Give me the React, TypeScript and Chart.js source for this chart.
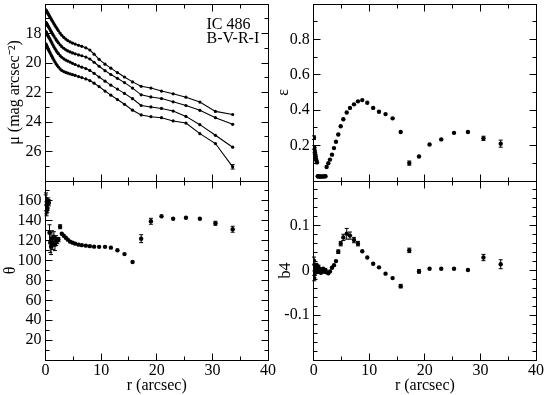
import React, { useEffect, useRef } from "react";
import { Chart, registerables } from "chart.js";

Chart.register(...registerables);

const FONT_FAMILY = "'Liberation Serif', 'Times New Roman', Times, serif";
const FONT_SIZE = 16;
const PAGE_W = 545;
const PAGE_H = 395;

// ---- data ----
const RADIUS = [
  0.05, 0.1, 0.15, 0.2, 0.27, 0.34, 0.42, 0.5, 0.6, 0.72,
  0.85, 1.0, 1.15, 1.32, 1.5, 1.7, 1.92, 2.12,
  2.32, 2.63, 2.93, 3.29, 3.65, 4.01, 4.42, 4.86, 5.33, 5.94,
  6.53, 7.25, 7.97, 8.74, 9.64, 10.7, 11.75, 12.93, 14.2, 15.65,
  17.2, 18.95, 20.85, 22.95, 25.25, 27.75, 30.55, 33.65,
];

const MU_I = [
  16.40, 16.43, 16.46, 16.49, 16.53, 16.58, 16.63, 16.68, 16.74, 16.82,
  16.90, 17.00, 17.10, 17.21, 17.33, 17.45, 17.58, 17.70,
  17.82, 17.98, 18.12, 18.26, 18.38, 18.48, 18.57, 18.65, 18.72, 18.80,
  18.87, 18.97, 19.12, 19.40, 19.75, 20.08, 20.35, 20.65, 20.95, 21.28,
  21.58, 21.70, 21.90, 22.09, 22.32, 22.65, 23.28, 23.49,
];
const MU_R = [
  17.24, 17.27, 17.30, 17.33, 17.38, 17.42, 17.47, 17.52, 17.58, 17.66,
  17.75, 17.85, 17.95, 18.06, 18.17, 18.29, 18.42, 18.53,
  18.63, 18.77, 18.89, 19.00, 19.10, 19.18, 19.25, 19.32, 19.38, 19.45,
  19.51, 19.60, 19.73, 19.95, 20.22, 20.52, 20.78, 21.04, 21.33, 21.70,
  22.16, 22.30, 22.41, 22.63, 22.88, 23.21, 23.71, 24.16,
];
const MU_V = [
  17.87, 17.90, 17.93, 17.97, 18.02, 18.07, 18.13, 18.19, 18.26, 18.34,
  18.43, 18.54, 18.65, 18.77, 18.89, 19.02, 19.16, 19.27,
  19.37, 19.50, 19.61, 19.72, 19.80, 19.87, 19.94, 20.02, 20.10, 20.20,
  20.28, 20.38, 20.50, 20.70, 20.95, 21.23, 21.50, 21.77, 22.06, 22.42,
  22.88, 22.98, 23.08, 23.26, 23.62, 24.18, 24.90, 25.71,
];
const MU_B = [
  18.70, 18.74, 18.78, 18.82, 18.88, 18.94, 19.00, 19.07, 19.15, 19.24,
  19.33, 19.44, 19.55, 19.67, 19.80, 19.93, 20.06, 20.17,
  20.27, 20.40, 20.50, 20.58, 20.64, 20.69, 20.74, 20.79, 20.84, 20.92,
  20.99, 21.08, 21.19, 21.37, 21.60, 21.90, 22.18, 22.48, 22.80, 23.20,
  23.52, 23.64, 23.71, 23.93, 24.07, 24.79, 25.46, 27.04,
];
const MU_B_ERR = [
  0, 0, 0, 0, 0, 0, 0, 0, 0, 0,
  0, 0, 0, 0, 0, 0, 0, 0,
  0, 0, 0, 0, 0, 0, 0, 0, 0, 0,
  0, 0, 0, 0, 0, 0, 0, 0, 0, 0,
  0, 0, 0, 0, 0, 0.04, 0.06, 0.15,
];

const ELLIP = [
  0.245, 0.19, 0.17, 0.16, 0.15, 0.14, 0.125, 0.115, 0.105, 0.027,
  0.026, 0.026, 0.025, 0.026, 0.025, 0.026, 0.026, 0.027,
  0.079, 0.100, 0.121, 0.149, 0.186, 0.222, 0.263, 0.309, 0.349, 0.387,
  0.413, 0.433, 0.450, 0.457, 0.442, 0.413, 0.391, 0.378, 0.354, 0.277,
  0.101, 0.138, 0.206, 0.235, 0.272, 0.277, 0.241, 0.211,
];
const ELLIP_ERR = [
  0.01, 0.01, 0.01, 0.01, 0.01, 0.008, 0.008, 0.006, 0.006, 0.004,
  0.004, 0.004, 0.004, 0.004, 0.004, 0.004, 0.004, 0.004,
  0.004, 0.004, 0.005, 0.005, 0.005, 0.006, 0.008, 0.008, 0.006, 0.005,
  0.004, 0.004, 0.004, 0.003, 0.003, 0.003, 0.003, 0.003, 0.004, 0.005,
  0.012, 0.008, 0.005, 0.005, 0.005, 0.006, 0.012, 0.02,
];

const PA = [
  158, 162, 153, 150, 156, 152, 157, 160, 158, 128,
  118, 114, 122, 117, 124, 116, 120, 120,
  121, 134, 127, 125, 123, 121, 119, 118, 117, 116,
  115.5, 115, 114.5, 114, 113.8, 113.8, 113, 110.3, 106.5, 98.5,
  122, 139.5, 144.5, 142, 143, 142, 137.5, 131.5,
];
const PA_ERR = [
  8, 6, 6, 5, 5, 4, 4, 3, 3, 8,
  10, 8, 8, 6, 5, 6, 5, 3,
  2, 2, 1, 1, 1, 1, 0.8, 0.8, 0.8, 0.6,
  0.6, 0.6, 0.6, 0.6, 0.6, 0.6, 0.6, 0.8, 0.8, 1,
  4, 3, 1, 1.5, 1, 1.5, 2, 3,
];

const B4 = [
  0.022, -0.017, 0.005, -0.006, 0.010, 0.000, 0.012, 0.004, 0.010, -0.003,
  0.008, -0.002, 0.003, -0.005, 0.002, 0.004, -0.003, 0.001,
  -0.004, -0.006, -0.002, 0.006, 0.012, 0.021, 0.042, 0.060, 0.074, 0.082,
  0.078, 0.068, 0.060, 0.043, 0.029, 0.015, 0.007, -0.007, -0.017, -0.035,
  0.045, -0.002, 0.004, 0.004, 0.004, 0.001, 0.029, 0.014,
];
const B4_ERR = [
  0.008, 0.006, 0.006, 0.005, 0.005, 0.005, 0.004, 0.004, 0.004, 0.004,
  0.004, 0.004, 0.003, 0.003, 0.003, 0.003, 0.003, 0.003,
  0.003, 0.003, 0.002, 0.002, 0.002, 0.003, 0.004, 0.005, 0.007, 0.012,
  0.008, 0.006, 0.005, 0.003, 0.002, 0.002, 0.002, 0.002, 0.003, 0.004,
  0.005, 0.004, 0.003, 0.003, 0.003, 0.003, 0.007, 0.010,
];

// ---- ticks and labels ----
const X_MAJOR = [0, 10, 20, 30, 40];
const X_MINOR = [5, 15, 25, 35];
const MU_MAJOR = [18, 20, 22, 24, 26];
const MU_MINOR = [17, 19, 21, 23, 25, 27];
const ELL_MAJOR = [0.2, 0.4, 0.6, 0.8];
const ELL_MINOR = [0.1, 0.3, 0.5, 0.7, 0.9];
const PA_MAJOR = [20, 40, 60, 80, 100, 120, 140, 160];
const PA_MINOR = [10, 30, 50, 70, 90, 110, 130, 150, 170];
const B4_MAJOR = [-0.1, 0, 0.1];
const B4_MINOR = [-0.18, -0.16, -0.14, -0.12, -0.08, -0.06, -0.04, -0.02, 0.02, 0.04, 0.06, 0.08, 0.12, 0.14, 0.16, 0.18];

const X_TITLE = "r (arcsec)";
const MU_TITLE = "\u03bc (mag arcsec\u207b\u00b2)";
const ELL_TITLE = "\u03b5";
const PA_TITLE = "\u03b8";
const B4_TITLE = "b4";
const GALAXY_LABEL = ["IC 486", "B-V-R-I"];

const pts = (ys: number[]) => RADIUS.map((r, i) => ({ x: r, y: ys[i] }));

type Area = { left: number; top: number; right: number; bottom: number };
type PanelSpec = {
  area: Area;
  yBoxLeft: number;
  xLabels: boolean;
  yMin: number;
  yMax: number;
  yReverse?: boolean;
  yMajor: number[];
  yMinor: number[];
  yFormat: (v: number) => string;
  yTitle: string;
  datasets: any[];
  texts?: { text: string; x: number; y: number }[];
};

const scatterSet = (ys: number[], errs: number[]) => ({
  data: pts(ys),
  errors: errs,
  showLine: false,
  pointRadius: 2.2,
  pointBackgroundColor: "#000",
  pointBorderWidth: 0,
  borderColor: "#000",
});
const lineSet = (ys: number[], errs?: number[]) => ({
  data: pts(ys),
  errors: errs,
  showLine: true,
  borderColor: "#000",
  borderWidth: 1.1,
  pointRadius: 1.6,
  pointBackgroundColor: "#000",
  pointBorderWidth: 0,
  tension: 0,
});

const PANELS: PanelSpec[] = [
  {
    area: { left: 45.5, top: 3, right: 268, bottom: 181 },
    yBoxLeft: 5.4,
    xLabels: false,
    yMin: 16,
    yMax: 28,
    yReverse: true,
    yMajor: MU_MAJOR,
    yMinor: MU_MINOR,
    yFormat: (v) => String(v),
    yTitle: MU_TITLE,
    datasets: [lineSet(MU_I), lineSet(MU_R), lineSet(MU_V), lineSet(MU_B, MU_B_ERR)],
    texts: [
      { text: GALAXY_LABEL[0], x: 206.5, y: 29 },
      { text: GALAXY_LABEL[1], x: 206.5, y: 43 },
    ],
  },
  {
    area: { left: 313.7, top: 3, right: 536, bottom: 181 },
    yBoxLeft: 273.9,
    xLabels: false,
    yMin: 0,
    yMax: 1,
    yMajor: ELL_MAJOR,
    yMinor: ELL_MINOR,
    yFormat: (v) => v.toFixed(1),
    yTitle: ELL_TITLE,
    datasets: [scatterSet(ELLIP, ELLIP_ERR)],
  },
  {
    area: { left: 45.5, top: 181, right: 268, bottom: 360 },
    yBoxLeft: 1.4,
    xLabels: true,
    yMin: 0,
    yMax: 180,
    yMajor: PA_MAJOR,
    yMinor: PA_MINOR,
    yFormat: (v) => String(v),
    yTitle: PA_TITLE,
    datasets: [scatterSet(PA, PA_ERR)],
  },
  {
    area: { left: 313.7, top: 181, right: 536, bottom: 360 },
    yBoxLeft: 276.4,
    xLabels: true,
    yMin: -0.2,
    yMax: 0.2,
    yMajor: B4_MAJOR,
    yMinor: B4_MINOR,
    yFormat: (v) => (Math.abs(v) < 1e-9 ? "0" : v.toFixed(1)),
    yTitle: B4_TITLE,
    datasets: [scatterSet(B4, B4_ERR)],
  },
];

const MAJOR_LEN = 7;
const MINOR_LEN = 4;

function framePlugin(p: PanelSpec) {
  return {
    id: "frameTicks",
    afterDatasetsDraw(chart: any) {
      const ctx = chart.ctx;
      const xs = chart.scales.x;
      const ys = chart.scales.y;
      ctx.save();
      ctx.strokeStyle = "#000";
      ctx.lineWidth = 1;
      chart.data.datasets.forEach((ds: any) => {
        if (!ds.errors) return;
        ds.data.forEach((pt: any, i: number) => {
          const e = ds.errors[i];
          if (!e) return;
          const px = xs.getPixelForValue(pt.x);
          const y1 = ys.getPixelForValue(pt.y - e);
          const y2 = ys.getPixelForValue(pt.y + e);
          if (Math.abs(y1 - y2) < 3) return;
          ctx.beginPath();
          ctx.moveTo(px, y1);
          ctx.lineTo(px, y2);
          ctx.moveTo(px - 2, y1);
          ctx.lineTo(px + 2, y1);
          ctx.moveTo(px - 2, y2);
          ctx.lineTo(px + 2, y2);
          ctx.stroke();
        });
      });
      ctx.restore();
    },
    afterDraw(chart: any) {
      const ctx = chart.ctx;
      const a = chart.chartArea;
      const xs = chart.scales.x;
      const ys = chart.scales.y;
      const al = (v: number) => Math.floor(v) + 0.5;
      const L = al(a.left), R = al(a.right), T = al(a.top), B = al(a.bottom);
      ctx.save();
      ctx.strokeStyle = "#000";
      ctx.lineWidth = 1;
      ctx.strokeRect(L, T, R - L, B - T);
      ctx.beginPath();
      const xt = (vals: number[], len: number) =>
        vals.forEach((v) => {
          const px = al(xs.getPixelForValue(v));
          ctx.moveTo(px, B);
          ctx.lineTo(px, B - len);
          ctx.moveTo(px, T);
          ctx.lineTo(px, T + len);
        });
      const yt = (vals: number[], len: number) =>
        vals.forEach((v) => {
          const py = al(ys.getPixelForValue(v));
          ctx.moveTo(L, py);
          ctx.lineTo(L + len, py);
          ctx.moveTo(R, py);
          ctx.lineTo(R - len, py);
        });
      xt(X_MAJOR, MAJOR_LEN);
      xt(X_MINOR, MINOR_LEN);
      yt(p.yMajor, MAJOR_LEN);
      yt(p.yMinor, MINOR_LEN);
      ctx.stroke();
      if (p.texts) {
        ctx.fillStyle = "#000";
        ctx.font = `${FONT_SIZE}px ${FONT_FAMILY}`;
        ctx.textAlign = "left";
        ctx.textBaseline = "alphabetic";
        p.texts.forEach((t) => ctx.fillText(t.text, t.x, t.y));
      }
      ctx.restore();
    },
  };
}

function zeroPad(s: any) {
  s.paddingTop = 0;
  s.paddingBottom = 0;
  s.paddingLeft = 0;
  s.paddingRight = 0;
}

function buildConfig(p: PanelSpec): any {
  const xHeight = p.xLabels ? 35 : 10;
  const yWidth = p.area.left - p.yBoxLeft;
  const font = { family: FONT_FAMILY, size: FONT_SIZE };
  return {
    type: "scatter",
    data: { datasets: p.datasets },
    options: {
      responsive: false,
      animation: false,
      devicePixelRatio: 1,
      events: [],
      layout: {
        padding: {
          left: p.yBoxLeft,
          top: p.area.top,
          right: PAGE_W - p.area.right,
          bottom: PAGE_H - p.area.bottom - xHeight,
        },
      },
      plugins: {
        legend: { display: false },
        tooltip: { enabled: false },
        title: { display: false },
      },
      scales: {
        x: {
          type: "linear",
          position: "bottom",
          min: 0,
          max: 40,
          grid: { display: false, drawTicks: false },
          border: { display: false },
          afterBuildTicks: (s: any) => {
            s.ticks = X_MAJOR.map((v) => ({ value: v }));
          },
          ticks: {
            display: p.xLabels,
            autoSkip: false,
            maxRotation: 0,
            padding: 1,
            color: "#000",
            font,
            callback: (v: number) => String(v),
          },
          title: { display: p.xLabels, text: X_TITLE, color: "#000", font, padding: 0 },
          afterFit: (s: any) => {
            s.height = xHeight;
            zeroPad(s);
          },
        },
        y: {
          type: "linear",
          position: "left",
          min: p.yMin,
          max: p.yMax,
          reverse: !!p.yReverse,
          grid: { display: false, drawTicks: false },
          border: { display: false },
          afterBuildTicks: (s: any) => {
            s.ticks = p.yMajor.map((v) => ({ value: v }));
          },
          ticks: {
            autoSkip: false,
            padding: 4,
            color: "#000",
            font,
            callback: (v: number) => p.yFormat(v),
          },
          title: { display: true, text: p.yTitle, color: "#000", font, padding: 0 },
          afterFit: (s: any) => {
            s.width = yWidth;
            zeroPad(s);
          },
        },
      },
    },
    plugins: [framePlugin(p)],
  };
}

export default function App() {
  const canvases = useRef<(HTMLCanvasElement | null)[]>([]);
  useEffect(() => {
    const charts = PANELS.map((p, i) => new Chart(canvases.current[i] as HTMLCanvasElement, buildConfig(p)));
    return () => charts.forEach((c) => c.destroy());
  }, []);
  return (
    <div
      style={{
        position: "fixed",
        left: 0,
        top: 0,
        width: PAGE_W,
        height: PAGE_H,
        overflow: "hidden",
        background: "#fff",
      }}
    >
      {PANELS.map((_, i) => (
        <canvas
          key={i}
          ref={(el) => {
            canvases.current[i] = el;
          }}
          width={PAGE_W}
          height={PAGE_H}
          style={{ position: "absolute", left: 0, top: 0 }}
        />
      ))}
    </div>
  );
}
